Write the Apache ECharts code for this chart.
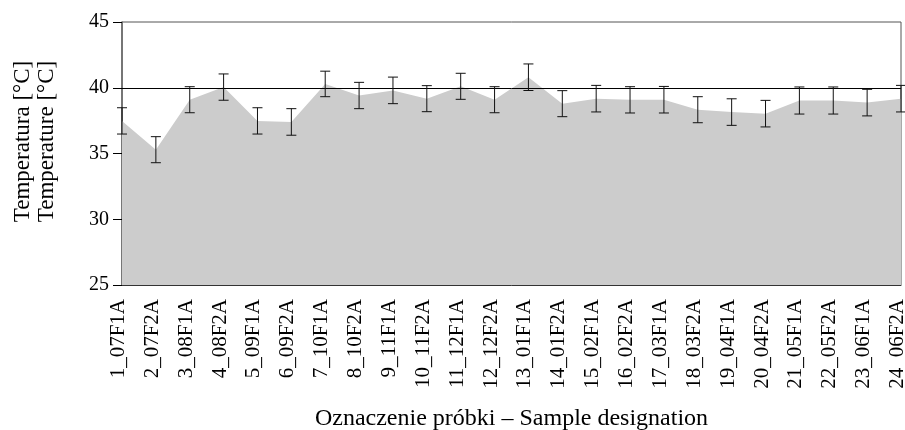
<!DOCTYPE html>
<html>
<head>
<meta charset="utf-8">
<script src="https://cdn.jsdelivr.net/npm/echarts@6/dist/echarts.min.js"></script>
<style>html,body{margin:0;padding:0;background:#fff}#c{width:905px;height:430px}</style>
</head>
<body>
<div id="c"></div>
<script>
const categories = ["1_07F1A","2_07F2A","3_08F1A","4_08F2A","5_09F1A","6_09F2A","7_10F1A","8_10F2A","9_11F1A","10_11F2A","11_12F1A","12_12F2A","13_01F1A","14_01F2A","15_02F1A","16_02F2A","17_03F1A","18_03F2A","19_04F1A","20_04F2A","21_05F1A","22_05F2A","23_06F1A","24_06F2A"];
const temperature = [37.48,35.29,39.09,40.05,37.48,37.40,40.29,39.41,39.80,39.17,40.11,39.09,40.80,38.79,39.17,39.08,39.09,38.33,38.15,38.03,39.03,39.03,38.87,39.17];
const errorValues = [1.00,0.99,0.99,1.00,1.00,1.01,0.97,1.00,1.01,0.99,0.99,0.99,1.01,0.99,1.01,1.00,1.01,0.99,1.01,1.01,1.03,1.03,1.01,1.01];
const yTicks = [25,30,35,40,45];
const referenceLine = 40;

const FONT = "Liberation Serif";
const errData = categories.map((c,i)=>[i, temperature[i]-errorValues[i], temperature[i]+errorValues[i]]);

const chart = echarts.init(document.getElementById('c'), null, {renderer:'canvas'});
chart.setOption({
  animation:false,
  grid:{left:122,right:4,top:22,bottom:145,containLabel:false,outerBoundsMode:'none',show:true,borderColor:'#555',borderWidth:1,backgroundColor:'transparent'},
  xAxis:{
    type:'category', data:categories, boundaryGap:false,
    axisLine:{lineStyle:{color:'#333',width:1}},
    axisTick:{show:false},
    axisLabel:{rotate:90,interval:0,margin:14,fontFamily:FONT,fontSize:21,color:'#000',verticalAlign:'bottom',lineHeight:7},
    name:'Oznaczenie próbki – Sample designation',
    nameLocation:'middle', nameGap:122,
    nameTextStyle:{fontFamily:FONT,fontSize:24,color:'#000'}
  },
  yAxis:{
    type:'value', min:yTicks[0], max:yTicks[yTicks.length-1], interval:5,
    splitLine:{show:false},
    axisLine:{show:true,lineStyle:{color:'#666',width:1.5}},
    axisTick:{show:true,length:9,lineStyle:{color:'#000'}},
    axisLabel:{margin:13,fontFamily:FONT,fontSize:20,color:'#000'},
    name:'Temperatura [°C]\nTemperature [°C]',
    nameLocation:'middle', nameRotate:90, nameGap:63,
    nameTextStyle:{fontFamily:FONT,fontSize:23,color:'#000',lineHeight:24,padding:[0,0,0,24]}
  },
  series:[
    {
      type:'line', data:temperature, symbol:'none',
      lineStyle:{width:0,color:'#cccccc'},
      areaStyle:{color:'#cccccc',opacity:1},
      z:1,
      markLine:{silent:true,symbol:['none','none'],label:{show:false},
        lineStyle:{color:'#000',type:'solid',width:1},
        data:[{yAxis:referenceLine}]}
    },
    {
      type:'custom', data:errData, z:5,
      renderItem:function(params,api){
        const x = api.value(0);
        const lo = api.coord([x, api.value(1)]);
        const hi = api.coord([x, api.value(2)]);
        const w = 5;
        const st = {stroke:'#111',lineWidth:1};
        return {type:'group',children:[
          {type:'line',shape:{x1:lo[0],y1:lo[1],x2:hi[0],y2:hi[1]},style:st},
          {type:'line',shape:{x1:lo[0]-w,y1:lo[1],x2:lo[0]+w,y2:lo[1]},style:st},
          {type:'line',shape:{x1:hi[0]-w,y1:hi[1],x2:hi[0]+w,y2:hi[1]},style:st}
        ]};
      },
      encode:{x:0,y:[1,2]}
    }
  ]
});
</script>
</body>
</html>
